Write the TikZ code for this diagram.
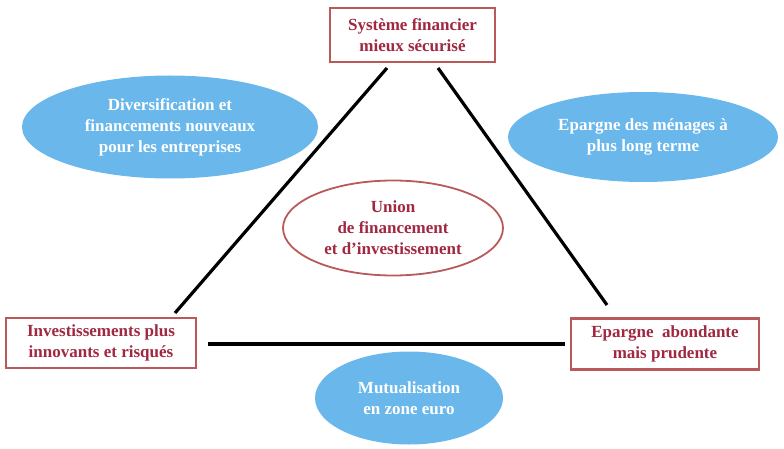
\documentclass[tikz,border=0pt]{standalone}
\usepackage{fontspec}
\setmainfont{Liberation Serif}
\usetikzlibrary{shapes.geometric}
\definecolor{boxred}{RGB}{185,90,90}
\definecolor{txtred}{RGB}{160,40,65}
\definecolor{skyfill}{RGB}{105,183,235}
\tikzset{
  redbox/.style={draw=boxred, line width=2.2pt, fill=white, inner sep=0pt,
    text=txtred, font=\fontsize{17}{21}\selectfont\bfseries, align=center},
  blueell/.style={ellipse, fill=skyfill, inner sep=0pt, text=white,
    font=\fontsize{17}{21}\selectfont\bfseries, align=center},
  redell/.style={ellipse, draw=boxred, line width=1.8pt, inner sep=0pt,
    text=txtred, font=\fontsize{17}{21}\selectfont\bfseries, align=center},
  link/.style={draw=black, line width=3.2pt}
}
\begin{document}
\begin{tikzpicture}[x=1pt,y=-1pt]
\useasboundingbox (0,0) rectangle (784,449);
% blue ellipses
\node[blueell, minimum width=296pt, minimum height=103pt] (div) at (170,127)
  {Diversification et\\financements nouveaux\\pour les entreprises};
\node[blueell, minimum width=270pt, minimum height=90pt] (epm) at (643,137)
  {Epargne des ménages à\\plus long terme};
\node[blueell, minimum width=188pt, minimum height=93pt] (mut) at (409,398)
  {Mutualisation\\en zone euro};
% central ellipse
\node[redell, minimum width=220pt, minimum height=95pt] (uni) at (393,228)
  {Union\\de financement\\et d'investissement};
% boxes
\node[redbox, minimum width=165pt, minimum height=54pt] (top) at (412.5,35)
  {Système financier\\mieux sécurisé};
\node[redbox, minimum width=190pt, minimum height=50pt] (inv) at (101,343)
  {Investissements plus\\innovants et risqués};
\node[redbox, minimum width=188pt, minimum height=51pt] (epa) at (665,344)
  {Epargne\ \ abondante\\mais prudente};
% connector end points
\coordinate (tl) at (387,68);
\coordinate (bl) at (175,313);
\coordinate (tr) at (438,68);
\coordinate (br) at (607,305);
\coordinate (ml) at (208,344);
\coordinate (mr) at (565,344);
\draw[link] (tl) -- (bl);
\draw[link] (tr) -- (br);
\draw[link] (ml) -- (mr);
\end{tikzpicture}
\end{document}
